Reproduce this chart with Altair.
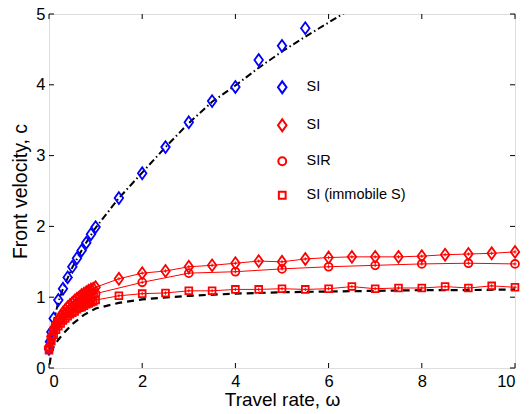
import altair as alt
import pandas as pd

# ---------------- data ----------------
blue_x = [0, 0.02, 0.05, 0.1, 0.2, 0.3, 0.4, 0.5, 0.6, 0.7, 0.8, 0.9, 1.0,
          1.5, 2.0, 2.5, 3.0, 3.5, 4.0, 4.5, 5.0, 5.5]
blue_y = [0.27, 0.37, 0.51, 0.70, 0.96, 1.12, 1.28, 1.43, 1.55, 1.66, 1.77, 1.89, 1.99,
          2.40, 2.75, 3.12, 3.47, 3.77, 3.97, 4.35, 4.55, 4.80]

dense_x = [0, 0.05, 0.1, 0.15, 0.2, 0.25, 0.3, 0.35, 0.4, 0.45, 0.5,
           0.55, 0.6, 0.65, 0.7, 0.75, 0.8, 0.85, 0.9, 0.95, 1.0]
half_x = [1.5, 2.0, 2.5, 3.0, 3.5, 4.0, 4.5, 5.0, 5.5, 6.0, 6.5, 7.0, 7.5,
          8.0, 8.5, 9.0, 9.5, 10.0]
int_x = [2, 3, 4, 5, 6, 7, 8, 9, 10]

si_red_y = [0.30, 0.45, 0.55, 0.62, 0.68, 0.73, 0.78, 0.82, 0.86, 0.89, 0.92,
            0.95, 0.98, 1.00, 1.03, 1.05, 1.07, 1.09, 1.11, 1.12, 1.14,
            1.26, 1.34, 1.37, 1.43, 1.45, 1.48, 1.51, 1.50, 1.54, 1.56, 1.57, 1.57, 1.57,
            1.58, 1.60, 1.61, 1.62, 1.64]
sir_y = [0.28, 0.42, 0.52, 0.59, 0.64, 0.69, 0.73, 0.77, 0.80, 0.83, 0.86,
         0.89, 0.91, 0.93, 0.95, 0.97, 0.99, 1.01, 1.02, 1.04, 1.05,
         1.21, 1.34, 1.36, 1.40, 1.43, 1.45, 1.47, 1.48, 1.47]
imm_y = [0.25, 0.38, 0.47, 0.54, 0.59, 0.63, 0.67, 0.70, 0.73, 0.76, 0.78,
         0.80, 0.83, 0.85, 0.86, 0.88, 0.90, 0.91, 0.93, 0.94, 0.96,
         1.02, 1.05, 1.06, 1.09, 1.09, 1.11, 1.11, 1.12, 1.11, 1.12, 1.15, 1.12, 1.13,
         1.13, 1.15, 1.13, 1.16, 1.14]

# theory curves
theo_top_x = [0, 0.02, 0.05, 0.1, 0.2, 0.3, 0.5, 0.75, 1.0, 1.5, 2.0, 2.5, 3.0,
              3.5, 4.0, 4.5, 5.0, 5.5, 6.0, 6.5]
theo_top_y = [0.22, 0.33, 0.48, 0.66, 0.93, 1.12, 1.42, 1.72, 1.98, 2.40, 2.76, 3.12,
              3.46, 3.76, 3.99, 4.24, 4.47, 4.68, 4.88, 5.08]
theo_bot_x = [0.01, 0.05, 0.1, 0.2, 0.3, 0.5, 0.75, 1.0, 1.5, 2.0, 3.0, 4.0, 5.0,
              6.0, 7.0, 8.0, 9.0, 10.0]
theo_bot_y = [0.05, 0.20, 0.30, 0.40, 0.48, 0.62, 0.75, 0.84, 0.92, 0.97, 1.02, 1.05,
              1.07, 1.08, 1.09, 1.10, 1.10, 1.11]

x_ticks = [0, 2, 4, 6, 8, 10]
y_ticks = [0, 1, 2, 3, 4, 5]

series_names = ["SI_blue", "SI_red", "SIR", "SI (immobile S)"]

# ---------------- frames ----------------
pts = pd.concat([
    pd.DataFrame({"x": blue_x, "y": blue_y, "series": "SI_blue"}),
    pd.DataFrame({"x": dense_x + half_x, "y": si_red_y, "series": "SI_red"}),
    pd.DataFrame({"x": dense_x + int_x, "y": sir_y, "series": "SIR"}),
    pd.DataFrame({"x": dense_x + half_x, "y": imm_y, "series": "SI (immobile S)"}),
], ignore_index=True)
pts["kind"] = pts["series"]
red_pts = pts[pts.series != "SI_blue"]

theo_top = pd.DataFrame({"x": theo_top_x, "y": theo_top_y})
theo_bot = pd.DataFrame({"x": theo_bot_x, "y": theo_bot_y})

W, H = 466, 354
FONT = "Liberation Sans"
xs = alt.Scale(domain=[0, 10], nice=False)
ys = alt.Scale(domain=[0, 5], nice=False)

diamond = "M0,-1L0.72,0L0,1L-0.72,0Z"
plus = "M-0.5,0L0.5,0M0,-0.5L0,0.5"

base_x = alt.X("x:Q", scale=xs, axis=alt.Axis(
    values=x_ticks, ticks=False, domain=False, grid=False, labelFontSize=16.5,
    labelPadding=5, title="Travel rate, \u03c9", titleFontSize=19,
    titleFontWeight="normal", titlePadding=1, labelFont=FONT, titleFont=FONT,
    labelColor="black", titleColor="black", format="d"))
base_y = alt.Y("y:Q", scale=ys, axis=alt.Axis(
    values=y_ticks, ticks=False, domain=False, grid=False, labelFontSize=16.5,
    labelPadding=4, title="Front velocity, c", titleFontSize=19.5,
    titleFontWeight="normal", titlePadding=5, labelFont=FONT, titleFont=FONT,
    labelColor="black", titleColor="black", format="d"))

lines_red = alt.Chart(red_pts).mark_line(color="#ff0000", strokeWidth=1).encode(
    x=base_x, y=base_y, detail="series:N", order="x:Q")

top_line = alt.Chart(theo_top).mark_line(
    color="black", strokeWidth=2, strokeDash=[7, 3, 1.5, 3], clip=True
).encode(x=alt.X("x:Q", scale=xs), y=alt.Y("y:Q", scale=ys))

bot_line = alt.Chart(theo_bot).mark_line(
    color="black", strokeWidth=2.2, strokeDash=[7, 5], clip=True
).encode(x=alt.X("x:Q", scale=xs), y=alt.Y("y:Q", scale=ys))

markers = alt.Chart(pts).mark_point(filled=False, strokeWidth=1.8, opacity=1).encode(
    x=alt.X("x:Q", scale=xs),
    y=alt.Y("y:Q", scale=ys),
    color=alt.Color("series:N", scale=alt.Scale(
        domain=series_names, range=["#0000ff", "#ff0000", "#ff0000", "#ff0000"]),
        legend=alt.Legend(
            title=None, orient="none", legendX=226, legendY=66, padding=0,
            labelFont=FONT, labelFontSize=14.5, labelColor="black",
            labelOffset=17, rowPadding=17, symbolStrokeWidth=2, symbolSize=90,
            labelExpr="datum.label == 'SI_blue' || datum.label == 'SI_red' ? 'SI' : datum.label")),
    shape=alt.Shape("series:N", scale=alt.Scale(
        domain=series_names, range=[diamond, diamond, "circle", "square"])),
    size=alt.Size("kind:N", scale=alt.Scale(
        type="ordinal", domain=series_names, range=[140, 140, 62, 46]), legend=None),
)

crosses = alt.Chart(red_pts).mark_point(
    shape=plus, size=45, color="#ff0000", strokeWidth=1, filled=False, opacity=1
).encode(x=alt.X("x:Q", scale=xs), y=alt.Y("y:Q", scale=ys))

# inward tick marks on all four sides
xt = pd.DataFrame({"t": x_ticks})
yt = pd.DataFrame({"t": y_ticks})
tick_b = alt.Chart(xt).mark_rule(color="black", strokeWidth=1).encode(
    x=alt.X("t:Q", scale=xs), y=alt.value(H), y2=alt.value(H - 5))
tick_t = alt.Chart(xt).mark_rule(color="black", strokeWidth=1).encode(
    x=alt.X("t:Q", scale=xs), y=alt.value(0), y2=alt.value(5))
tick_l = alt.Chart(yt).mark_rule(color="black", strokeWidth=1).encode(
    y=alt.Y("t:Q", scale=ys), x=alt.value(0), x2=alt.value(5))
tick_r = alt.Chart(yt).mark_rule(color="black", strokeWidth=1).encode(
    y=alt.Y("t:Q", scale=ys), x=alt.value(W), x2=alt.value(W - 5))

chart = alt.layer(
    lines_red, top_line, bot_line, crosses, markers, tick_b, tick_t, tick_l, tick_r
).resolve_scale(color="shared").properties(
    width=W, height=H,
    autosize=alt.AutoSizeParams(type="none"),
    padding={"left": 41, "top": 6, "right": 7, "bottom": 48},
).configure_view(stroke="black", strokeWidth=1.2).configure(background="white")

chart.save("out.html", embed_options={"renderer": "svg", "actions": False})
